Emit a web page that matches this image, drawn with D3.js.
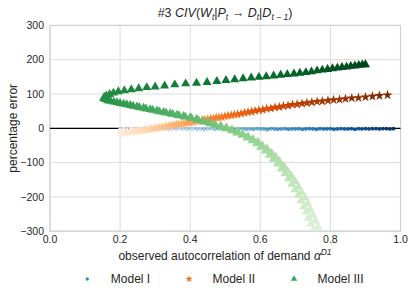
<!DOCTYPE html>
<meta charset="utf-8">
<style>
body { margin: 0; background: #fff; }
text { font-family: "Liberation Sans", Arial, sans-serif; fill: #262626; }
.grid line { stroke: #dcdcdc; stroke-width: 1; }
</style>
<body>
<svg width="416" height="298"></svg>
<script src="https://cdn.jsdelivr.net/npm/d3@7"></script>
<script>

var xTicks = [0, 0.2, 0.4, 0.6, 0.8, 1.0];
var yTicks = [-300, -200, -100, 0, 100, 200, 300];
var legendNames = ["Model I", "Model II", "Model III"];

var model1 = [[0.20,-3],[0.21,-2],[0.22,-4],[0.23,-1],[0.24,-3],[0.25,-2],[0.26,-2],[0.27,-4],[0.28,-1],[0.29,-3],
  [0.30,-2],[0.31,-3],[0.32,-1],[0.33,-2],[0.34,-4],[0.35,-2],[0.36,-3],[0.37,-1],[0.38,-2],[0.39,-3],
  [0.40,-2],[0.41,-1],[0.42,-3],[0.43,-2],[0.44,-4],[0.45,-2],[0.46,-1],[0.47,-3],[0.48,-2],[0.49,-2],
  [0.50,-3],[0.51,-1],[0.52,-2],[0.53,-4],[0.54,-2],[0.55,-1],[0.56,-3],[0.57,-2],[0.58,-3],[0.59,-1],
  [0.60,-2],[0.61,-2],[0.62,-4],[0.63,-1],[0.64,-2],[0.65,-3],[0.66,-2],[0.67,-1],[0.68,-3],[0.69,-2],
  [0.70,-2],[0.71,-1],[0.72,-3],[0.73,-2],[0.74,-1],[0.75,-2],[0.76,-3],[0.77,-1],[0.78,-2],[0.79,-2],
  [0.80,-1],[0.81,-3],[0.82,-2],[0.83,-1],[0.84,-2],[0.85,-2],[0.86,-1],[0.87,-3],[0.88,-1],[0.89,-2],
  [0.90,-1],[0.91,-2],[0.92,-1],[0.93,-1],[0.94,-2],[0.95,-1],[0.96,-1],[0.97,-2],[0.98,-1]];

var model2 = [[0.200,-15],[0.207,-13],[0.214,-13],[0.221,-11],[0.228,-11],[0.235,-9],[0.242,-9],[0.249,-7],
  [0.256,-6],[0.263,-6],[0.270,-4],[0.277,-4],[0.284,-2],[0.291,-1],[0.298,0],[0.305,2],[0.312,2],[0.319,4],
  [0.326,5],[0.333,6],[0.340,8],[0.347,8],[0.354,10],[0.361,11],[0.368,12],[0.375,14],[0.382,14],[0.389,16],
  [0.396,17],[0.403,18],[0.410,19],[0.418,21],[0.426,22],[0.434,24],[0.442,25],[0.450,26],[0.458,28],[0.466,29],
  [0.474,31],[0.482,32],[0.490,33],[0.499,35],[0.508,37],[0.517,38],[0.526,40],[0.535,41],[0.545,43],[0.555,45],
  [0.565,47],[0.575,49],[0.585,51],[0.596,53],[0.607,54],[0.618,57],[0.630,58],[0.642,61],[0.654,62],[0.666,65],
  [0.679,66],[0.692,69],[0.705,70],[0.719,72],[0.733,74],[0.747,76],[0.762,78],[0.777,79],[0.793,81],[0.809,83],
  [0.826,84],[0.843,86],[0.861,88],[0.880,89],[0.900,91],[0.920,93],[0.940,95],[0.963,97]];

var model3 = [[0.772,-305],[0.752,-296],[0.765,-288],[0.744,-279],[0.757,-270],[0.737,-262],[0.750,-253],[0.731,-244],
  [0.742,-236],[0.724,-228],[0.735,-219],[0.716,-211],[0.727,-203],[0.708,-195],[0.718,-187],[0.699,-179],
  [0.709,-171],[0.690,-163],[0.699,-155],[0.680,-147],[0.689,-140],[0.670,-132],[0.678,-125],[0.660,-118],
  [0.667,-111],[0.649,-104],[0.655,-97],[0.637,-90],[0.644,-84],[0.626,-78],[0.632,-72],[0.614,-66],
  [0.619,-60],[0.601,-55],[0.606,-50],[0.589,-45],[0.593,-40],[0.576,-36],[0.579,-32],[0.562,-28],
  [0.565,-24],[0.548,-20],[0.550,-17],[0.533,-13],[0.535,-10],[0.518,-7],[0.519,-4],[0.503,-1],
  [0.503,2],[0.488,4],[0.487,7],[0.472,9],[0.470,12],[0.456,14],[0.453,17],[0.439,19],
  [0.436,22],[0.422,24],[0.418,27],[0.404,29],[0.400,31],[0.386,33],[0.381,35],[0.368,37],
  [0.362,39],[0.350,41],[0.343,43],[0.331,45],[0.324,47],[0.312,49],[0.305,51],[0.293,53],
  [0.286,55],[0.274,57],[0.267,59],[0.255,61],[0.248,63],[0.237,65],[0.229,67],[0.219,69],
  [0.210,71],[0.200,73],[0.191,75],[0.182,77],[0.173,79],[0.165,81],[0.158,84],[0.153,87],
  [0.155,91],[0.161,95],[0.170,99],[0.181,103],[0.195,107],[0.212,110],[0.232,113],[0.253,116],
  [0.276,119],[0.300,121],[0.327,124],[0.356,127],[0.387,130],[0.418,132],[0.448,134],[0.476,137],
  [0.502,140],[0.527,142],[0.551,145],[0.574,147],[0.596,149],[0.617,151],[0.638,153],[0.658,155],
  [0.677,157],[0.696,159],[0.713,161],[0.730,163],[0.746,165],[0.762,168],[0.777,170],[0.792,172],
  [0.806,174],[0.820,176],[0.833,178],[0.846,179],[0.858,181],[0.870,182],[0.881,184],[0.891,185],[0.900,186]];

var svg = d3.select("svg");

var x = d3.scaleLinear().domain([0, 1]).range([50, 400.5]);
var y = d3.scaleLinear().domain([-300, 300]).range([231.2, 25.4]);

svg.append("defs").append("clipPath").attr("id", "plot")
  .append("rect")
    .attr("x", x(0)).attr("y", y(300))
    .attr("width", x(1) - x(0)).attr("height", y(-300) - y(300));

var grid = svg.append("g").attr("class", "grid");
grid.selectAll(".vx").data(xTicks).enter().append("line")
    .attr("x1", function(d) { return x(d); }).attr("x2", function(d) { return x(d); })
    .attr("y1", y(300)).attr("y2", y(-300));
grid.selectAll(".hy").data(yTicks).enter().append("line")
    .attr("x1", x(0)).attr("x2", x(1))
    .attr("y1", function(d) { return y(d); }).attr("y2", function(d) { return y(d); });

svg.append("rect")
    .attr("x", x(0)).attr("y", y(300))
    .attr("width", x(1) - x(0)).attr("height", y(-300) - y(300))
    .attr("fill", "none").attr("stroke", "#d0d0d0").attr("stroke-width", 1.2);

svg.append("line")
    .attr("x1", x(0)).attr("x2", x(1))
    .attr("y1", y(0)).attr("y2", y(0))
    .attr("stroke", "#000").attr("stroke-width", 1.2);

var plot = svg.append("g").attr("clip-path", "url(#plot)");

function scatter(data, shape, size, interp, t0) {
  var n = data.length;
  plot.append("g").selectAll("path")
    .data(data)
    .enter().append("path")
      .attr("d", d3.symbol().type(shape).size(size))
      .attr("transform", function(d) { return "translate(" + x(d[0]) + "," + y(d[1]) + ")"; })
      .attr("fill", function(d, i) { return interp(t0 + (1 - t0) * i / (n - 1)); });
}

scatter(model1, d3.symbolCircle, 11, d3.interpolateBlues, 0.05);
scatter(model2, d3.symbolStar, 30, d3.interpolateOranges, 0.08);
scatter(model3, d3.symbolTriangle, 36, d3.interpolateGreens, 0.15);

svg.append("g").selectAll("text")
  .data(xTicks)
  .enter().append("text")
    .attr("x", function(d) { return x(d); })
    .attr("y", 243)
    .attr("text-anchor", "middle")
    .attr("font-size", "10.5px")
    .attr("fill", "#444")
    .text(d3.format(".1f"));

svg.append("g").selectAll("text")
  .data(yTicks)
  .enter().append("text")
    .attr("x", 44)
    .attr("y", function(d) { return y(d); })
    .attr("dy", "0.35em")
    .attr("text-anchor", "end")
    .attr("font-size", "10.5px")
    .attr("fill", "#444")
    .text(d3.format("d"));

var title = svg.append("text")
    .attr("x", 225).attr("y", 17)
    .attr("text-anchor", "middle")
    .attr("font-size", "12.5px");
title.append("tspan").text("#3 ");
title.append("tspan").attr("font-style", "italic").text("CIV");
title.append("tspan").text("(");
title.append("tspan").attr("font-style", "italic").text("W");
title.append("tspan").attr("font-style", "italic").attr("font-size", "8.5px").attr("dy", 2.5).text("t");
title.append("tspan").attr("dy", -2.5).text("|");
title.append("tspan").attr("font-style", "italic").text("P");
title.append("tspan").attr("font-style", "italic").attr("font-size", "8.5px").attr("dy", 2.5).text("t");
title.append("tspan").attr("dy", -2.5).text(" \u2192 ");
title.append("tspan").attr("font-style", "italic").text("D");
title.append("tspan").attr("font-style", "italic").attr("font-size", "8.5px").attr("dy", 2.5).text("t");
title.append("tspan").attr("dy", -2.5).text("|");
title.append("tspan").attr("font-style", "italic").text("D");
title.append("tspan").attr("font-style", "italic").attr("font-size", "8.5px").attr("dy", 2.5).text("t \u2212 1");
title.append("tspan").attr("dy", -2.5).text(")");

var xlab = svg.append("text")
    .attr("x", 225).attr("y", 260)
    .attr("text-anchor", "middle")
    .attr("font-size", "12px");
xlab.append("tspan").text("observed autocorrelation of demand ");
xlab.append("tspan").attr("font-style", "italic").text("\u03b1");
xlab.append("tspan").attr("font-style", "italic").attr("font-size", "8.5px").attr("dy", -5).text("D1");

svg.append("text")
    .attr("transform", "translate(17," + ((y(300) + y(-300)) / 2) + ") rotate(-90)")
    .attr("text-anchor", "middle")
    .attr("font-size", "12px")
    .text("percentage error");

var legendX = [87.3, 189, 294];
var legendShapes = [d3.symbolCircle, d3.symbolStar, d3.symbolTriangle];
var legendSizes = [9, 16, 18];
var legendColors = [d3.interpolateBlues(0.65), d3.interpolateOranges(0.6), d3.interpolateGreens(0.65)];

var legend = svg.append("g").selectAll("g")
  .data(legendNames)
  .enter().append("g")
    .attr("transform", function(d, i) { return "translate(" + legendX[i] + ",279)"; });
legend.append("path")
    .attr("d", function(d, i) { return d3.symbol().type(legendShapes[i]).size(legendSizes[i])(); })
    .attr("fill", function(d, i) { return legendColors[i]; });
legend.append("text")
    .attr("x", 23.5)
    .attr("y", 4.2)
    .attr("font-size", "12px")
    .text(function(d) { return d; });

</script>
</body>
